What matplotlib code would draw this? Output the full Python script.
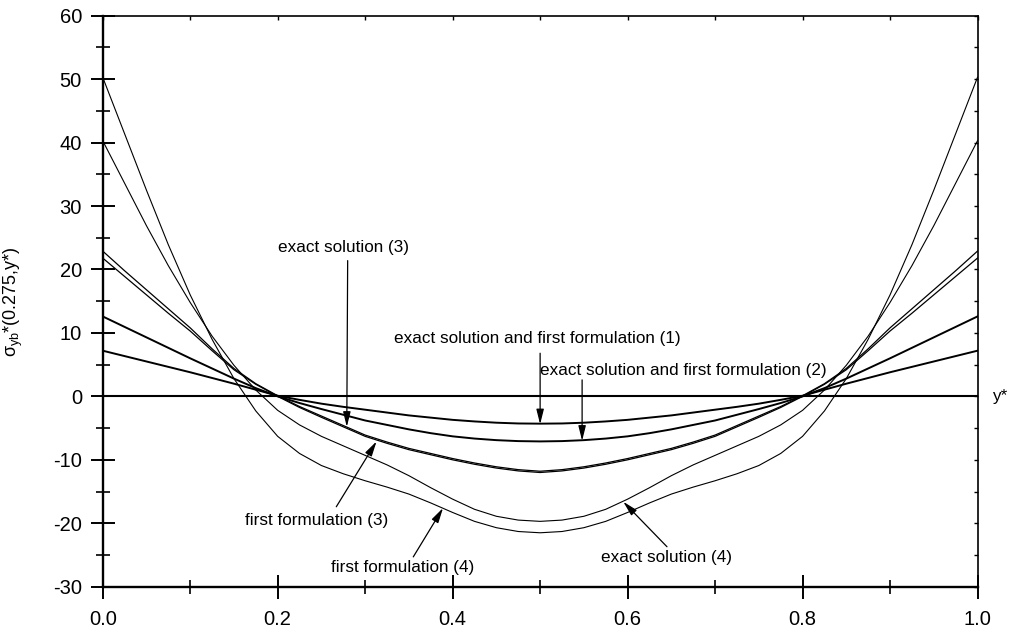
import numpy as np
import matplotlib
matplotlib.use('Agg')
import matplotlib.pyplot as plt

plt.rcParams['font.family'] = ['Liberation Sans', 'DejaVu Sans']
plt.rcParams['mathtext.fontset'] = 'custom'
plt.rcParams['mathtext.rm'] = 'Liberation Sans'
plt.rcParams['mathtext.it'] = 'Liberation Sans'
plt.rcParams['axes.unicode_minus'] = False

# stress profiles along y* (symmetric about y* = 0.5)
y_star = [0.0, 0.025, 0.05, 0.075, 0.1, 0.125, 0.15, 0.175, 0.2, 0.225,
          0.25, 0.275, 0.3, 0.325, 0.35, 0.375, 0.4, 0.425, 0.45, 0.475,
          0.5, 0.525, 0.55, 0.575, 0.6, 0.625, 0.65, 0.675, 0.7, 0.725,
          0.75, 0.775, 0.8, 0.825, 0.85, 0.875, 0.9, 0.925, 0.95, 0.975, 1.0]

case1 = [7.2, 6.35, 5.5, 4.65, 3.8, 2.9, 2.0, 1.05, 0.1, -0.55,
         -1.15, -1.65, -2.1, -2.55, -3.0, -3.35, -3.7, -3.95, -4.15, -4.27,
         -4.3, -4.27, -4.15, -3.95, -3.7, -3.35, -3.0, -2.55, -2.1, -1.65,
         -1.15, -0.55, 0.1, 1.05, 2.0, 2.9, 3.8, 4.65, 5.5, 6.35, 7.2]
case2 = [12.6, 10.95, 9.3, 7.65, 6.0, 4.4, 2.8, 1.3, 0.0, -1.05,
         -2.0, -2.9, -3.8, -4.5, -5.2, -5.8, -6.3, -6.65, -6.9, -7.05,
         -7.1, -7.05, -6.9, -6.65, -6.3, -5.8, -5.2, -4.5, -3.8, -2.9,
         -2.0, -1.05, 0.0, 1.3, 2.8, 4.4, 6.0, 7.65, 9.3, 10.95, 12.6]
exact3 = [22.9, 19.8, 16.8, 13.8, 10.8, 7.5, 4.4, 2.0, 0.1, -1.6,
          -3.1, -4.6, -6.1, -7.2, -8.2, -9.0, -9.8, -10.5, -11.1, -11.55,
          -11.8, -11.55, -11.1, -10.5, -9.8, -9.0, -8.2, -7.2, -6.1, -4.6,
          -3.1, -1.6, 0.1, 2.0, 4.4, 7.5, 10.8, 13.8, 16.8, 19.8, 22.9]
first3 = [21.8, 18.9, 16.0, 13.1, 10.3, 7.2, 4.2, 1.9, 0.0, -1.75,
          -3.3, -4.8, -6.3, -7.4, -8.4, -9.2, -10.0, -10.7, -11.3, -11.75,
          -12.0, -11.75, -11.3, -10.7, -10.0, -9.2, -8.4, -7.4, -6.3, -4.8,
          -3.3, -1.75, 0.0, 1.9, 4.2, 7.2, 10.3, 13.1, 16.0, 18.9, 21.8]
exact4 = [40.3, 33.6, 26.9, 20.6, 14.8, 9.5, 4.9, 1.0, -2.2, -4.5,
          -6.3, -7.8, -9.3, -10.8, -12.5, -14.4, -16.2, -17.8, -18.9, -19.5,
          -19.7, -19.5, -18.9, -17.8, -16.2, -14.4, -12.5, -10.8, -9.3, -7.8,
          -6.3, -4.5, -2.2, 1.0, 4.9, 9.5, 14.8, 20.6, 26.9, 33.6, 40.3]
first4 = [50.3, 41.4, 32.5, 23.9, 16.0, 9.0, 2.8, -2.3, -6.3, -9.0,
          -10.9, -12.2, -13.3, -14.3, -15.4, -16.8, -18.3, -19.7, -20.7, -21.3,
          -21.5, -21.3, -20.7, -19.7, -18.3, -16.8, -15.4, -14.3, -13.3, -12.2,
          -10.9, -9.0, -6.3, -2.3, 2.8, 9.0, 16.0, 23.9, 32.5, 41.4, 50.3]

fig = plt.figure(figsize=(10.19, 6.31), dpi=100)
ax = fig.add_axes([0.1008, 0.0702, 0.8585, 0.9049])

ax.axhline(0, color='k', lw=1.5)
ax.plot(y_star, case1, color='k', lw=1.4)
ax.plot(y_star, case2, color='k', lw=1.4)
ax.plot(y_star, exact3, color='k', lw=0.9)
ax.plot(y_star, first3, color='k', lw=0.9)
ax.plot(y_star, exact4, color='k', lw=0.8)
ax.plot(y_star, first4, color='k', lw=0.8)

ax.set_xlim(0, 1)
ax.set_ylim(-30, 60)
ax.set_xticks(np.arange(0, 1.01, 0.2))
ax.set_xticks(np.arange(0.1, 1.0, 0.2), minor=True)
ax.set_yticks(np.arange(-30, 61, 10))
ax.set_yticks(np.arange(-25, 60, 10), minor=True)
ax.set_xticklabels(['0.0', '0.2', '0.4', '0.6', '0.8', '1.0'])
ax.tick_params(which='major', direction='inout', length=17, width=1.4,
               labelsize=14.5, pad=6.5, top=False, right=False)
ax.tick_params(which='minor', direction='inout', length=9.5, width=1.2,
               top=False, right=False)
ax.tick_params(axis='x', which='major', pad=8)

for side in ['left', 'bottom']:
    ax.spines[side].set_linewidth(1.7)
for side in ['top', 'right']:
    ax.spines[side].set_linewidth(1.2)

# small inner ticks on the opposite frame sides
top = ax.secondary_xaxis('top')
top.set_xticks(np.arange(0, 1.01, 0.1))
top.tick_params(direction='in', length=3, width=1.0, labeltop=False)
top.spines['top'].set_visible(False)
right = ax.secondary_yaxis('right')
right.set_yticks(np.arange(-30, 61, 5))
right.tick_params(direction='in', length=3, width=1.0, labelright=False)
right.spines['right'].set_visible(False)

ax.set_ylabel(r'$\sigma_{yb}$*(0.275,y*)', fontsize=13)
ax.yaxis.set_label_coords(-0.089, 0.5)
ax.text(1.016, 0, 'y*', fontsize=12.3, va='center', ha='left',
        transform=ax.get_yaxis_transform())

# annotations: (text, text position, arrow tail, arrow head)
notes = [
    ('exact solution and first formulation (1)', (0.497, 9.2), (0.5, 6.8), (0.5, -4.4)),
    ('exact solution and first formulation (2)', (0.664, 4.0), (0.548, 2.6), (0.548, -7.0)),
    ('exact solution (3)', (0.275, 23.5), (0.28, 21.4), (0.279, -4.8)),
    ('first formulation (3)', (0.245, -19.5), (0.267, -17.4), (0.313, -7.1)),
    ('first formulation (4)', (0.343, -27.0), (0.355, -25.3), (0.389, -17.6)),
    ('exact solution (4)', (0.644, -25.4), (0.645, -23.7), (0.595, -16.6)),
]
for label, txt_xy, tail, head in notes:
    ax.text(txt_xy[0], txt_xy[1], label, fontsize=12.3, ha='center', va='center')
    ax.annotate('', xy=head, xytext=tail,
                arrowprops=dict(arrowstyle='-|>,head_length=0.6,head_width=0.15',
                                mutation_scale=15, color='k', lw=0.9,
                                shrinkA=0, shrinkB=0))

fig.savefig('out.png', dpi=100)
